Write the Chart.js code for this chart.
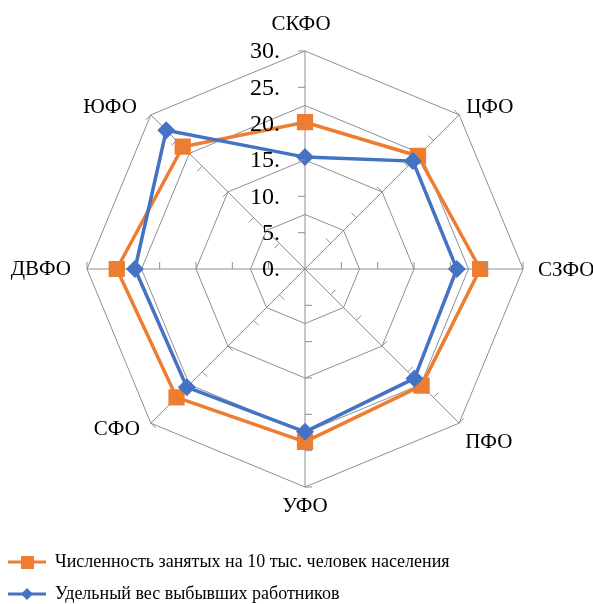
<!DOCTYPE html>
<html lang="ru">
<head>
<meta charset="UTF-8">
<title>Radar</title>
<script src="https://cdn.jsdelivr.net/npm/chart.js"></script>
<style>
    body { margin: 0; background: #fff; }
    #wrap { width: 593px; height: 604px; position: relative; }
</style>
</head>
<body>
<div id="wrap"><canvas id="radar"></canvas></div>
<script>
    // data
    const regions = ['СКФО', 'ЦФО', 'СЗФО', 'ПФО', 'УФО', 'СФО', 'ДВФО', 'ЮФО'];
    const employed = [20.2, 22.0, 24.1, 22.7, 23.8, 25.0, 25.9, 23.8];
    const leavers = [15.4, 21.0, 20.9, 21.3, 22.4, 23.0, 23.4, 27.0];
    const tickValues = [0, 5, 10, 15, 20, 25, 30];
    const tickLabels = ['0.', '5.', '10.', '15.', '20.', '25.', '30.'];

    const ORANGE = '#ED7D31';
    const BLUE = '#4472C4';
    const GRID = '#8f8f8f';
    const FONT = "'Liberation Serif', serif";

    // where each category name sits relative to its outer vertex (Excel places them unevenly)
    const labelPlace = [
        { dx: -4, dy: -21, align: 'center' },
        { dx: 7, dy: -2, align: 'left' },
        { dx: 15, dy: 7, align: 'left' },
        { dx: 6, dy: 25, align: 'left' },
        { dx: 0, dy: 25, align: 'center' },
        { dx: -11, dy: 12, align: 'right' },
        { dx: -16, dy: 6, align: 'right' },
        { dx: -14, dy: -2, align: 'right' }
    ];

    function legendIcon(color, shape) {
        const c = document.createElement('canvas');
        c.width = 38; c.height = 16;
        const g = c.getContext('2d');
        g.strokeStyle = color;
        g.lineWidth = 3;
        g.beginPath(); g.moveTo(0, 8); g.lineTo(38, 8); g.stroke();
        g.fillStyle = color;
        if (shape === 'rect') {
            g.fillRect(13, 2, 13, 13);
        } else {
            g.beginPath();
            g.moveTo(19, 2); g.lineTo(25, 8); g.lineTo(19, 14); g.lineTo(13, 8);
            g.closePath(); g.fill();
        }
        return c;
    }
    const icons = [legendIcon(ORANGE, 'rect'), legendIcon(BLUE, 'diamond')];

    const extras = {
        id: 'extras',
        afterLayout(chart) {
            // legend sits at the bottom-left over the full width, partly cut off like the original
            const lg = chart.legend;
            const dy = 539 - lg.top;
            lg.left = -6; lg.right = 600; lg.width = 606;
            lg.top += dy; lg.bottom += dy;
        },
        afterDatasetsDraw(chart) {
            const s = chart.scales.r;
            const ctx = chart.ctx;
            ctx.save();
            // small tick marks along every spoke
            ctx.strokeStyle = GRID;
            ctx.lineWidth = 1;
            for (let i = 0; i < regions.length; i++) {
                for (const v of tickValues) {
                    if (v === 0) continue;
                    const p = s.getPointPositionForValue(i, v);
                    const a = s.getIndexAngle(i) - Math.PI / 2;
                    const dx = Math.cos(a), dy = Math.sin(a);
                    let px = dy, py = -dx;
                    if (Math.abs(dy) < 0.01) py = -1;
                    ctx.beginPath();
                    ctx.moveTo(p.x, p.y);
                    ctx.lineTo(p.x + px * 7, p.y + py * 7);
                    ctx.stroke();
                }
            }
            // value labels left of the vertical spoke
            ctx.fillStyle = '#000';
            ctx.font = '24px ' + FONT;
            ctx.textAlign = 'right';
            ctx.textBaseline = 'middle';
            tickValues.forEach((v, k) => {
                const y = s.yCenter - s.getDistanceFromCenterForValue(v);
                ctx.fillText(tickLabels[k], s.xCenter - 25, y + 1);
            });
            // category names
            ctx.font = '21px ' + FONT;
            ctx.textBaseline = 'alphabetic';
            regions.forEach((name, i) => {
                const p = s.getPointPosition(i, s.drawingArea);
                const lp = labelPlace[i];
                ctx.textAlign = lp.align;
                ctx.fillText(name, p.x + lp.dx, p.y + lp.dy);
            });
            ctx.restore();
        }
    };

    new Chart(document.getElementById('radar'), {
        type: 'radar',
        data: {
            labels: regions,
            datasets: [{
                label: 'Численность занятых на 10 тыс. человек населения',
                data: employed,
                borderColor: ORANGE,
                backgroundColor: ORANGE,
                borderWidth: 3.5,
                pointStyle: 'rect',
                pointRadius: 9,
                pointHoverRadius: 9,
                fill: false,
                order: 1
            }, {
                label: 'Удельный вес выбывших работников',
                data: leavers,
                borderColor: BLUE,
                backgroundColor: BLUE,
                borderWidth: 3.5,
                pointStyle: 'rectRot',
                pointRadius: 6.5,
                pointHoverRadius: 6.5,
                fill: false,
                order: 0
            }]
        },
        options: {
            responsive: true,
            maintainAspectRatio: false,
            animation: false,
            layout: { padding: { left: 87, right: 70, top: 51, bottom: 43 } },
            scales: {
                r: {
                    min: 0,
                    max: 30,
                    ticks: { stepSize: 7.5, display: false },
                    grid: { color: GRID, lineWidth: 1 },
                    angleLines: { color: GRID, lineWidth: 1 },
                    pointLabels: { display: false }
                }
            },
            plugins: {
                tooltip: { enabled: false },
                legend: {
                    position: 'bottom',
                    align: 'start',
                    labels: {
                        color: '#000',
                        font: { family: FONT, size: 18 },
                        usePointStyle: true,
                        pointStyleWidth: 38,
                        padding: 14,
                        generateLabels(chart) {
                            const items = Chart.defaults.plugins.legend.labels.generateLabels(chart);
                            items.sort((a, b) => a.datasetIndex - b.datasetIndex);
                            items.forEach(it => { it.pointStyle = icons[it.datasetIndex]; });
                            return items;
                        }
                    }
                }
            }
        },
        plugins: [extras]
    });
</script>
</body>
</html>
